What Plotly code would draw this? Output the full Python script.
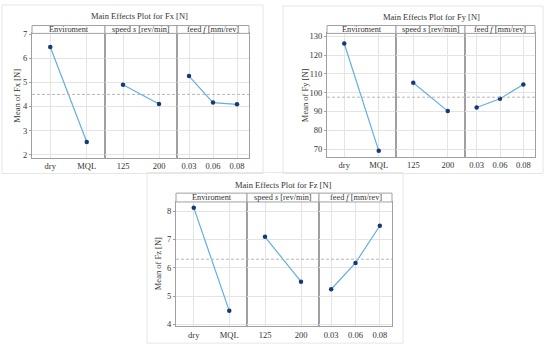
import plotly.graph_objects as go

W, H = 550, 350

# ---- data ----
titles = ["Main Effects Plot for Fx [N]", "Main Effects Plot for Fy [N]", "Main Effects Plot for Fz [N]"]
ytitles = ["Mean of Fx [N]", "Mean of Fy [N]", "Mean of Fz [N]"]
factor_names = ["Enviroment", "speed <i>s</i> [rev/min]", "feed <i>f</i> [mm/rev]"]
env_levels = ["dry", "MQL"]
speed_levels = ["125", "200"]
feed_levels = ["0.03", "0.06", "0.08"]

fx_env = [6.47, 2.53]
fx_speed = [4.90, 4.10]
fx_feed = [5.26, 4.16, 4.09]
fy_env = [126.2, 69.0]
fy_speed = [105.3, 90.2]
fy_feed = [92.1, 96.8, 104.4]
fz_env = [8.12, 4.48]
fz_speed = [7.09, 5.51]
fz_feed = [5.24, 6.17, 7.48]
grand_means = [4.50, 97.6, 6.30]

y_ranges = [[1.87, 7.03], [65.8, 131.6], [3.93, 8.32]]
y_ticks = [[2, 3, 4, 5, 6, 7], [70, 80, 90, 100, 110, 120, 130], [4, 5, 6, 7, 8]]

panels_vals = [[fx_env, fx_speed, fx_feed], [fy_env, fy_speed, fy_feed], [fz_env, fz_speed, fz_feed]]
levels = [env_levels, speed_levels, feed_levels]

# ---- layout geometry (pixels) ----
sub_x = [[(32, 105), (105, 177), (177, 249)],
         [(327, 396), (396, 465), (465, 535)],
         [(176, 247), (247, 319), (319, 392)]]
head_top = [22, 22, 193]
head_bot = [30, 30, 202]
data_bot = [157, 156, 329]
title_pos = [(140, 12), (431, 13), (283, 185)]
ytitle_x = [17, 305, 158]
cards = [(2, 1, 263, 173), (283, 2, 543, 173), (147, 172, 403, 346)]

def fx(p):
    return p / W

def fy(p):
    return 1 - p / H

FONT = "Liberation Serif, DejaVu Serif, serif"
LINE_C = "#62b0de"
MARK_C = "#163a78"
AX_C = "#a0a0a0"
GRID_C = "#e4e4e4"

fig = go.Figure()
layout = dict(width=W, height=H, margin=dict(l=0, r=0, t=0, b=0),
              paper_bgcolor="white", plot_bgcolor="white", showlegend=False,
              font=dict(family=FONT, size=8, color="#333"))
shapes = []
annotations = []

for p in range(3):
    # card
    x0, y0, x1, y1 = cards[p]
    shapes.append(dict(type="rect", xref="paper", yref="paper", x0=fx(x0), x1=fx(x1),
                       y0=fy(y1), y1=fy(y0), line=dict(color="#e6e6e6", width=1),
                       fillcolor="rgba(0,0,0,0)", layer="below"))
    for s in range(3):
        idx = p * 3 + s + 1
        xa = f"xaxis{idx}"
        ya = f"yaxis{idx}"
        xs, xe = sub_x[p][s]
        labs = levels[s]
        fig.add_trace(go.Scatter(x=labs, y=panels_vals[p][s], mode="lines+markers",
                                 xaxis=f"x{idx}", yaxis=f"y{idx}",
                                 line=dict(color=LINE_C, width=1.2),
                                 marker=dict(color=MARK_C, size=4.5),
                                 hoverinfo="skip"))
        layout[xa] = dict(domain=[fx(xs), fx(xe)], anchor=f"y{idx}", type="category",
                          range=[-0.5, len(labs) - 0.5], showgrid=True, gridcolor=GRID_C,
                          gridwidth=1, showline=True, mirror=True, linecolor=AX_C,
                          linewidth=1, ticks="", ticklen=0,
                          zeroline=False, fixedrange=True,
                          tickfont=dict(size=8.5, color="#333"))
        layout[ya] = dict(domain=[fy(data_bot[p]), fy(head_bot[p])], anchor=f"x{idx}",
                          range=y_ranges[p], tickvals=y_ticks[p], showgrid=True,
                          gridcolor=GRID_C, gridwidth=1, showline=True, mirror=True,
                          linecolor=AX_C, linewidth=1,
                          ticks="outside" if s == 0 else "", ticklen=2, tickcolor=AX_C,
                          zeroline=False,
                          fixedrange=True, showticklabels=(s == 0),
                          tickfont=dict(size=8.5, color="#333"))
        # header strip
        shapes.append(dict(type="rect", xref="paper", yref="paper", x0=fx(xs), x1=fx(xe),
                           y0=fy(head_bot[p]), y1=fy(head_top[p]),
                           line=dict(color=AX_C, width=1), fillcolor="white"))
        annotations.append(dict(text=factor_names[s], xref="paper", yref="paper",
                                x=fx((xs + xe) / 2), y=fy((head_top[p] + head_bot[p]) / 2),
                                showarrow=False, xanchor="center", yanchor="middle",
                                font=dict(size=8.3, color="#333")))
    # grand mean line
    y_ref = f"y{p * 3 + 1}"
    shapes.append(dict(type="line", xref="paper", yref=y_ref,
                       x0=fx(sub_x[p][0][0]), x1=fx(sub_x[p][2][1]),
                       y0=grand_means[p], y1=grand_means[p],
                       line=dict(color="#b8b8b8", width=1, dash="3px,2px")))
    # title
    tx, ty = title_pos[p]
    annotations.append(dict(text=titles[p], xref="paper", yref="paper", x=fx(tx), y=fy(ty),
                            showarrow=False, xanchor="center", yanchor="middle",
                            font=dict(size=8.5, color="#333")))
    # y title
    annotations.append(dict(text=ytitles[p], xref="paper", yref="paper",
                            x=fx(ytitle_x[p]), y=fy((head_bot[p] + data_bot[p]) / 2),
                            showarrow=False, textangle=-90, xanchor="center", yanchor="middle",
                            font=dict(size=8.5, color="#333")))

layout["shapes"] = shapes
layout["annotations"] = annotations
fig.update_layout(**layout)
fig.write_html("out.html", config={"displayModeBar": False},
               post_script="document.body.style.margin='0';")
